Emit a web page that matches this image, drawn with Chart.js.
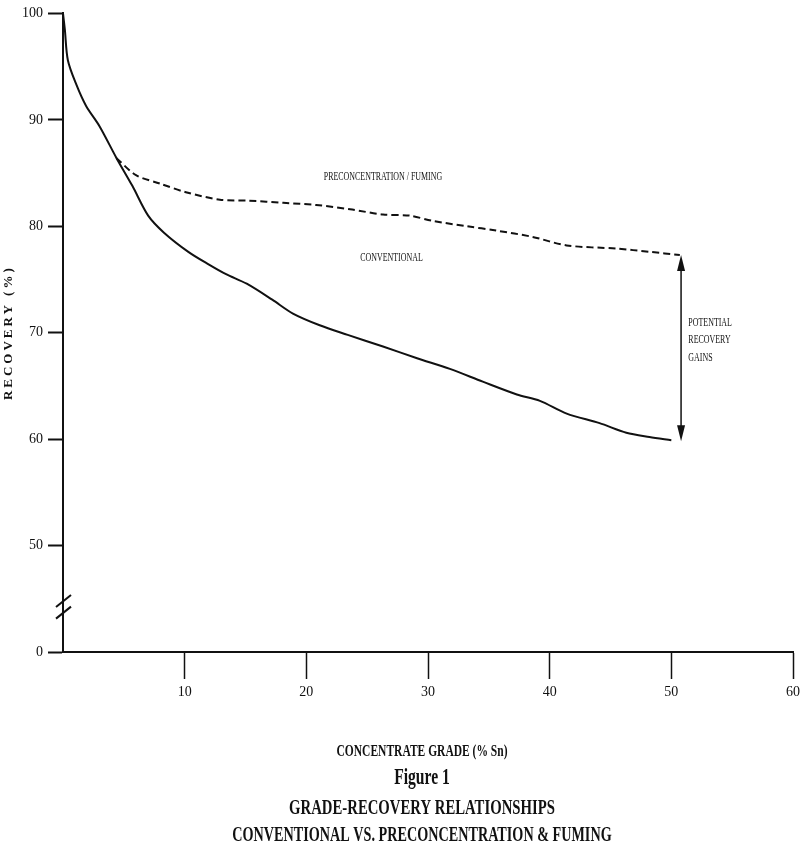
<!DOCTYPE html>
<html>
<head>
<meta charset="utf-8">
<script src="https://cdn.jsdelivr.net/npm/chart.js@4/dist/chart.umd.min.js"></script>
<style>
  html, body { margin: 0; padding: 0; background: #fff; }
  #wrap { width: 800px; height: 853px; position: relative; }
</style>
</head>
<body>
<div id="wrap"><canvas id="gradeChart" width="800" height="853"></canvas></div>
<script>
// grade (% Sn) vs recovery (%)
const gradeConv = [0, 0.15, 0.4, 1.1, 1.9, 3.0, 4.4, 5.7, 7.0, 8.3, 10.3, 12.0, 13.4, 15.1, 17.2, 18.9, 21.1, 23.4, 26.3, 29.1, 31.8, 34.5, 37.3, 39.2, 41.4, 44.1, 46.3, 48.2, 50.0];
const recConv   = [100, 98.5, 95.6, 93.3, 91.3, 89.4, 86.4, 83.8, 81.0, 79.4, 77.6, 76.4, 75.5, 74.6, 73.1, 71.8, 70.7, 69.8, 68.7, 67.6, 66.6, 65.4, 64.2, 63.6, 62.4, 61.5, 60.6, 60.2, 59.9];
const gradePre  = [4.4, 6.0, 8.0, 10.1, 12.9, 15.3, 18.1, 20.8, 23.6, 26.3, 28.5, 30.4, 33.2, 35.6, 38.6, 41.4, 45.5, 48.2, 50.7];
const recPre    = [86.4, 84.8, 84.0, 83.2, 82.5, 82.4, 82.2, 82.0, 81.6, 81.1, 81.0, 80.5, 80.0, 79.6, 79.0, 78.2, 77.9, 77.6, 77.3];
const xTicks = [10, 20, 30, 40, 50, 60];
const yTicks = [100, 90, 80, 70, 60, 50];
const yBreakLabel = '0';   // bottom of the broken axis is labelled 0
const gainsGrade = 50.8;
const gainsRange = [77.3, 59.8];

const serif = '"Liberation Serif", "DejaVu Serif", serif';

function squeezed(ctx, text, x, y, font, sx, align) {
  ctx.save();
  ctx.translate(x, y);
  ctx.scale(sx, 1);
  ctx.font = font;
  ctx.fillStyle = '#111';
  ctx.textAlign = align || 'center';
  ctx.textBaseline = 'middle';
  ctx.fillText(text, 0, 0);
  ctx.restore();
}

const extras = {
  id: 'extras',
  afterDatasetsDraw(chart) {
    const ctx = chart.ctx;
    const xs = chart.scales.x, ys = chart.scales.y;
    const ax = xs.left;

    // axis break marks
    ctx.save();
    ctx.strokeStyle = '#111';
    ctx.lineWidth = 2;
    [44.8, 43.7].forEach(v => {
      const py = ys.getPixelForValue(v);
      ctx.beginPath();
      ctx.moveTo(ax - 7, py + 6);
      ctx.lineTo(ax + 8, py - 6);
      ctx.stroke();
    });

    // double arrow for the recovery gap
    const gx = xs.getPixelForValue(gainsGrade);
    const y1 = ys.getPixelForValue(gainsRange[0]);
    const y2 = ys.getPixelForValue(gainsRange[1]);
    ctx.lineWidth = 1.5;
    ctx.beginPath();
    ctx.moveTo(gx, y1 + 8);
    ctx.lineTo(gx, y2 - 8);
    ctx.stroke();
    ctx.fillStyle = '#111';
    ctx.beginPath();
    ctx.moveTo(gx, y1); ctx.lineTo(gx - 4, y1 + 16); ctx.lineTo(gx + 4, y1 + 16); ctx.closePath();
    ctx.fill();
    ctx.beginPath();
    ctx.moveTo(gx, y2); ctx.lineTo(gx - 4, y2 - 16); ctx.lineTo(gx + 4, y2 - 16); ctx.closePath();
    ctx.fill();
    ctx.restore();

    // curve labels
    const small = '12px ' + serif;
    squeezed(ctx, 'PRECONCENTRATION / FUMING', xs.getPixelForValue(26.3), ys.getPixelForValue(84.6), small, 0.66);
    squeezed(ctx, 'CONVENTIONAL', xs.getPixelForValue(27.0), ys.getPixelForValue(77.0), small, 0.66);
    const gl = xs.getPixelForValue(51.4);
    squeezed(ctx, 'POTENTIAL', gl, 323, small, 0.66, 'left');
    squeezed(ctx, 'RECOVERY', gl, 340, small, 0.66, 'left');
    squeezed(ctx, 'GAINS', gl, 358, small, 0.66, 'left');

    // y axis title
    ctx.save();
    ctx.translate(9, (ys.top + ys.bottom) / 2);
    ctx.rotate(-Math.PI / 2);
    ctx.font = 'bold 13px ' + serif;
    ctx.letterSpacing = '3px';
    ctx.fillStyle = '#111';
    ctx.textAlign = 'center';
    ctx.textBaseline = 'middle';
    ctx.fillText('RECOVERY (%)', 0, 0);
    ctx.restore();

    // x axis title and caption
    const cx = 422;
    squeezed(ctx, 'CONCENTRATE GRADE (% Sn)', cx, 752, 'bold 16px ' + serif, 0.72);
    squeezed(ctx, 'Figure 1', cx, 778, 'bold 23px ' + serif, 0.68);
    squeezed(ctx, 'GRADE-RECOVERY RELATIONSHIPS', cx, 808, 'bold 22px ' + serif, 0.67);
    squeezed(ctx, 'CONVENTIONAL VS. PRECONCENTRATION & FUMING', cx, 835, 'bold 22px ' + serif, 0.645);
  }
};

const ctx = document.getElementById('gradeChart').getContext('2d');
const gradeChart = new Chart(ctx, {
  type: 'line',
  data: {
    datasets: [{
      label: 'Conventional',
      data: gradeConv.map((g, i) => ({ x: g, y: recConv[i] })),
      borderColor: '#111',
      borderWidth: 2,
      pointRadius: 0,
      tension: 0.3,
      fill: false
    }, {
      label: 'Preconcentration / Fuming',
      data: gradePre.map((g, i) => ({ x: g, y: recPre[i] })),
      borderColor: '#111',
      borderWidth: 2,
      borderDash: [7, 4],
      pointRadius: 0,
      tension: 0.3,
      fill: false
    }]
  },
  options: {
    responsive: false,
    animation: false,
    layout: { padding: { top: 10, right: 0, left: 0, bottom: 141 } },
    plugins: {
      legend: { display: false },
      tooltip: { enabled: false }
    },
    scales: {
      x: {
        type: 'linear',
        min: 0,
        max: 60,
        afterFit: s => { s.height = 60; s.paddingRight = 7; },
        afterBuildTicks: s => { s.ticks = [0].concat(xTicks).map(v => ({ value: v })); },
        ticks: {
          color: '#111',
          padding: 5,
          maxRotation: 0,
          font: { family: serif, size: 14 },
          callback: v => v === 0 ? '' : v
        },
        grid: {
          drawOnChartArea: false,
          drawTicks: true,
          tickLength: 27,
          tickWidth: 1.5,
          tickColor: c => (c.tick && c.tick.value === 0) ? 'rgba(0,0,0,0)' : '#111'
        },
        border: { display: true, color: '#111', width: 2 }
      },
      y: {
        type: 'linear',
        min: 40,
        max: 100,
        afterFit: s => { s.width = 63; },
        afterBuildTicks: s => { s.ticks = [40].concat(yTicks).map(v => ({ value: v })); },
        ticks: {
          color: '#111',
          padding: 5,
          font: { family: serif, size: 14 },
          callback: v => v === 40 ? yBreakLabel : v
        },
        grid: {
          drawOnChartArea: false,
          drawTicks: true,
          tickLength: 15,
          tickWidth: 2,
          tickColor: '#111'
        },
        border: { display: true, color: '#111', width: 2 }
      }
    }
  },
  plugins: [extras]
});
</script>
</body>
</html>
